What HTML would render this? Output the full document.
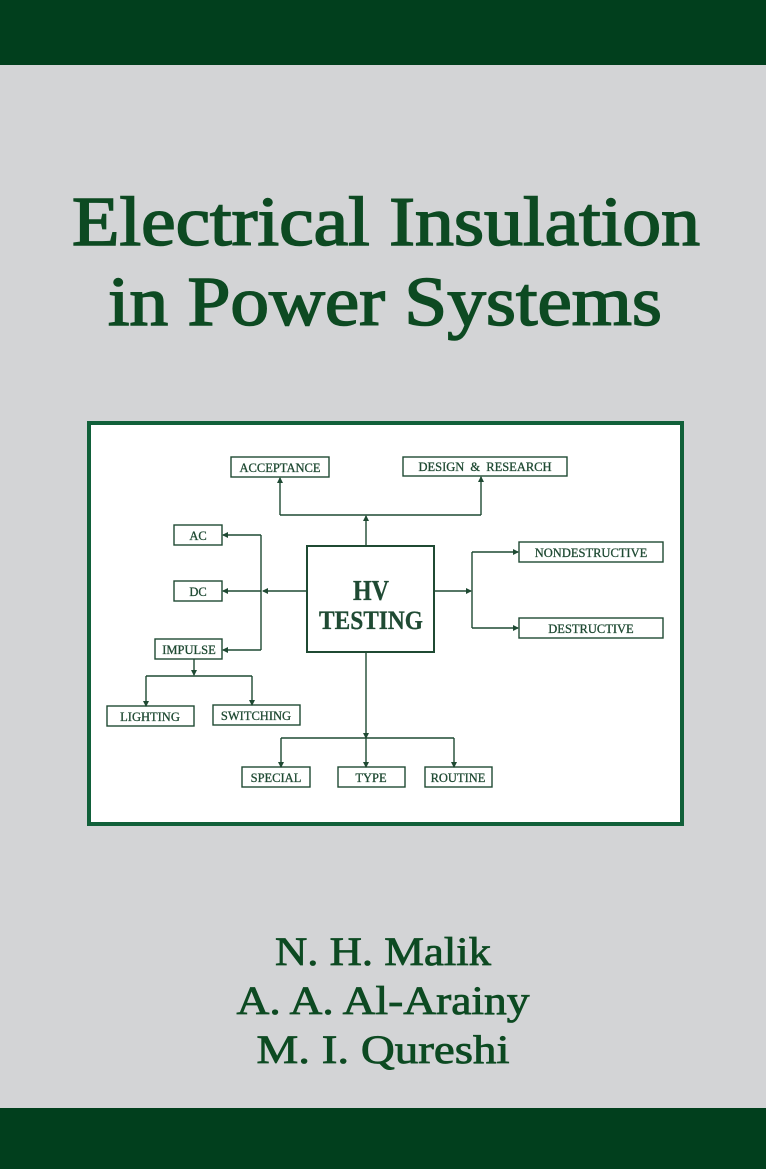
<!DOCTYPE html>
<html><head><meta charset="utf-8"><style>
html,body{margin:0;padding:0;background:#d3d4d6;}
svg{display:block;}
</style></head><body>
<svg width="766" height="1169" viewBox="0 0 766 1169" xmlns="http://www.w3.org/2000/svg">
<rect x="0" y="0" width="766" height="1169" fill="#d3d4d6"/>
<rect x="0" y="0" width="766" height="65" fill="#013f1d"/>
<rect x="0" y="1108" width="766" height="61" fill="#013f1d"/>
<g font-family="Liberation Serif, serif" fill="#0d4a22" stroke="#0d4a22">
<text x="72" y="245" font-size="70" stroke-width="1.6" textLength="628" lengthAdjust="spacingAndGlyphs">Electrical Insulation</text>
<text x="108" y="325" font-size="70" stroke-width="1.6" textLength="554" lengthAdjust="spacingAndGlyphs">in Power Systems</text>
<text x="383" y="965" font-size="40" stroke-width="0.8" text-anchor="middle" textLength="216" lengthAdjust="spacingAndGlyphs">N. H. Malik</text>
<text x="383" y="1014" font-size="40" stroke-width="0.8" text-anchor="middle" textLength="293" lengthAdjust="spacingAndGlyphs">A. A. Al-Arainy</text>
<text x="383" y="1063" font-size="40" stroke-width="0.8" text-anchor="middle" textLength="253" lengthAdjust="spacingAndGlyphs">M. I. Qureshi</text>
</g>
<rect x="89" y="423" width="593" height="401" fill="#fff" stroke="#11603a" stroke-width="4"/>
<defs><marker id="a" markerWidth="6" markerHeight="6" refX="5" refY="3" orient="auto" markerUnits="userSpaceOnUse"><path d="M0,0 L6,3 L0,6z" fill="#1f4a33"/></marker></defs>
<g stroke="#1f4a33" stroke-width="1.4" fill="none">
<rect x="231" y="457" width="98" height="20"/>
<rect x="403" y="457" width="164" height="19"/>
<rect x="174" y="525" width="48" height="20"/>
<rect x="174" y="581" width="48" height="20"/>
<rect x="155" y="639" width="67" height="20"/>
<rect x="107" y="706" width="87" height="20"/>
<rect x="213" y="705" width="87" height="20"/>
<rect x="307" y="546" width="127" height="106" stroke-width="2"/>
<rect x="519" y="542" width="144" height="20"/>
<rect x="519" y="618" width="144" height="20"/>
<rect x="242" y="767" width="68" height="20"/>
<rect x="338" y="767" width="67" height="20"/>
<rect x="425" y="767" width="67" height="20"/>
<line x1="366" y1="546" x2="366" y2="516" marker-end="url(#a)"/>
<polyline points="280,515 481,515"/>
<line x1="280" y1="515" x2="280" y2="478" marker-end="url(#a)"/>
<line x1="481" y1="515" x2="481" y2="477" marker-end="url(#a)"/>
<line x1="307" y1="591" x2="263" y2="591" marker-end="url(#a)"/>
<polyline points="261,535 261,650"/>
<line x1="261" y1="535" x2="223" y2="535" marker-end="url(#a)"/>
<line x1="261" y1="591" x2="223" y2="591" marker-end="url(#a)"/>
<line x1="261" y1="650" x2="223" y2="650" marker-end="url(#a)"/>
<line x1="194" y1="659" x2="194" y2="675" marker-end="url(#a)"/>
<polyline points="146,676 252,676"/>
<line x1="146" y1="676" x2="146" y2="706" marker-end="url(#a)"/>
<line x1="252" y1="676" x2="252" y2="705" marker-end="url(#a)"/>
<line x1="434" y1="591" x2="471" y2="591" marker-end="url(#a)"/>
<polyline points="472,552 472,628"/>
<line x1="472" y1="552" x2="518" y2="552" marker-end="url(#a)"/>
<line x1="472" y1="628" x2="518" y2="628" marker-end="url(#a)"/>
<line x1="366" y1="652" x2="366" y2="738" marker-end="url(#a)"/>
<polyline points="281,738 454,738"/>
<line x1="281" y1="738" x2="281" y2="767" marker-end="url(#a)"/>
<line x1="366" y1="738" x2="366" y2="767" marker-end="url(#a)"/>
<line x1="454" y1="738" x2="454" y2="767" marker-end="url(#a)"/>
</g>
<g font-family="Liberation Serif, serif" fill="#1f4a33" stroke="#1f4a33" stroke-width="0.3" font-size="12.5" text-anchor="middle">
<text x="280" y="472">ACCEPTANCE</text>
<text x="485" y="471" word-spacing="3">DESIGN &amp; RESEARCH</text>
<text x="198" y="540">AC</text>
<text x="198" y="596">DC</text>
<text x="189" y="654">IMPULSE</text>
<text x="150" y="721">LIGHTING</text>
<text x="256" y="720">SWITCHING</text>
<text x="591" y="557">NONDESTRUCTIVE</text>
<text x="591" y="633">DESTRUCTIVE</text>
<text x="276" y="782">SPECIAL</text>
<text x="371" y="782">TYPE</text>
<text x="458" y="782">ROUTINE</text>
<text x="371" y="600" font-size="28" font-weight="bold" textLength="36" lengthAdjust="spacingAndGlyphs">HV</text>
<text x="371" y="629" font-size="26" font-weight="bold" textLength="104" lengthAdjust="spacingAndGlyphs">TESTING</text>
</g>
</svg>
</body></html>
